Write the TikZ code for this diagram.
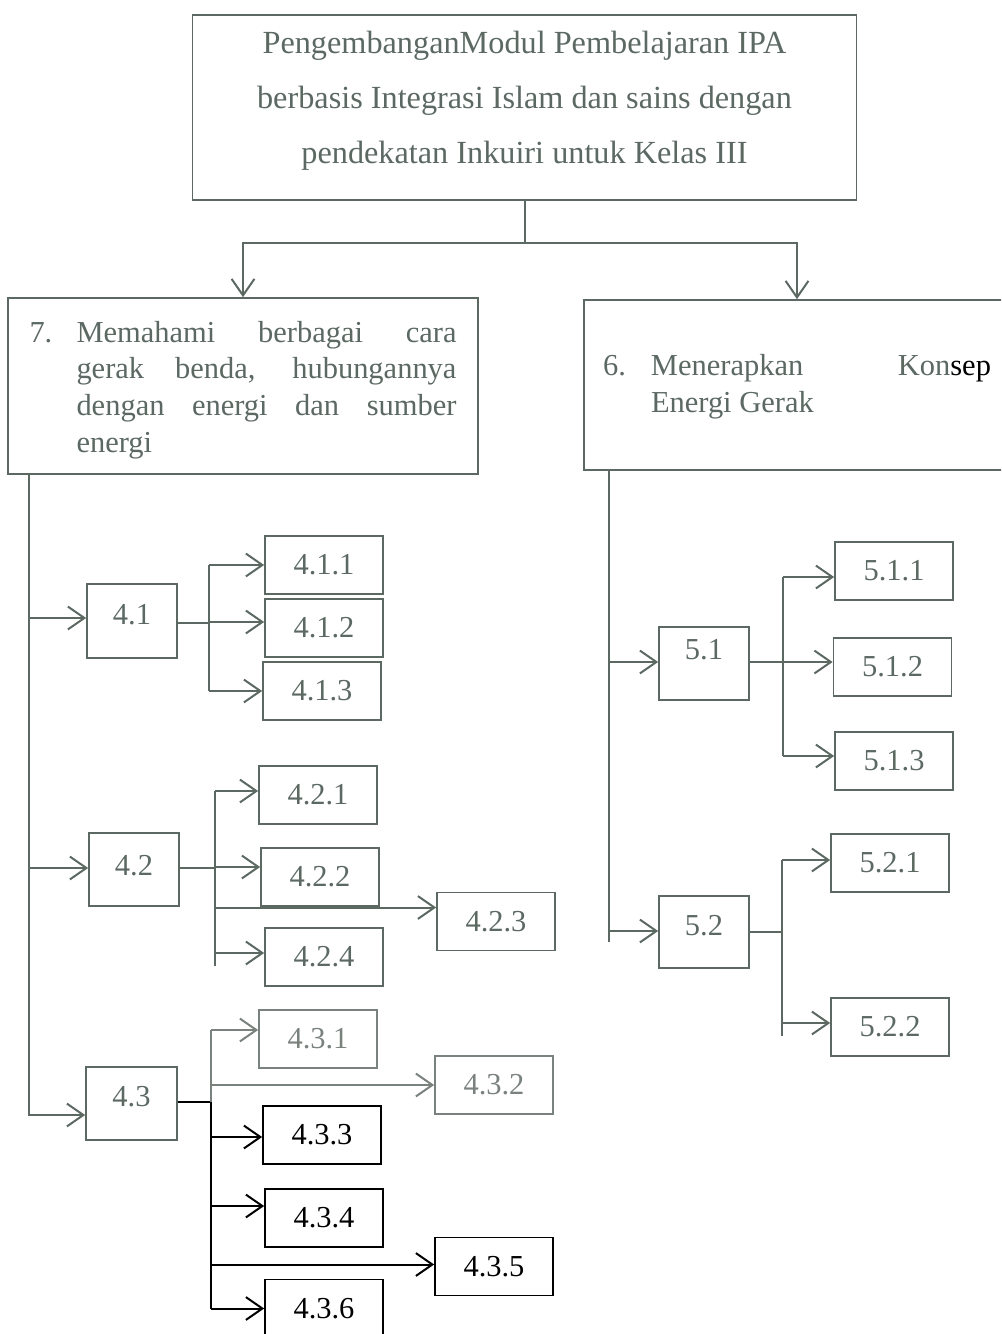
\documentclass[tikz,border=0pt]{standalone}
\usepackage{fontspec}
\setmainfont{Liberation Serif}
\usetikzlibrary{arrows.meta}
\newlength{\du}
\setlength{\du}{0.3937pt}
\newcommand{\naik}[2][6\du]{\raisebox{#1}[\height][\depth]{#2}}
\definecolor{dialinecolor}{rgb}{0.36,0.41,0.39}
\definecolor{dialinefaint}{rgb}{0.48,0.51,0.49}
\tikzset{
  kotak/.style={draw=dialinecolor, line width=1.7\du, text=dialinecolor, inner sep=0pt,
    font=\fontsize{12}{14.4}\selectfont},
  sub/.style={kotak, minimum width=90\du, minimum height=73\du},
  leaf/.style={kotak, minimum width=118\du, minimum height=58\du},
  garis/.style={draw=dialinecolor, line width=2\du},
  panah/.style={garis, -{Straight Barb[length=6.5pt,width=9pt]}},
  hitam/.style={draw=black, text=black},
  pudar/.style={draw=dialinefaint, text=dialinefaint},
}
\begin{document}
\begin{tikzpicture}
\pgftransformxscale{1.000000}
\pgftransformyscale{-1.000000}
\useasboundingbox (0\du,0\du) rectangle (1001\du,1334\du);
\clip (0\du,0\du) rectangle (1001\du,1334\du);
% judul
\node[kotak, minimum width=664\du, minimum height=185\du] (judul) at (524.5\du,107.5\du)
  {\naik[7\du]{\parbox{620\du}{\centering\fontsize{12.7}{21.65}\selectfont
   PengembanganModul Pembelajaran IPA\\berbasis Integrasi Islam dan sains dengan\\pendekatan Inkuiri untuk Kelas III}}};
% kompetensi dasar
\node[kotak, minimum width=470\du, minimum height=176\du] (kd7) at (243\du,386\du)
  {\naik[-4\du]{\makebox[47\du][l]{7.}\parbox[t]{380\du}{Memahami berbagai cara\linebreak gerak benda, hubungannya\linebreak dengan energi dan sumber\linebreak energi}}};
\node[kotak, minimum width=426\du, minimum height=170\du] (kd6) at (797\du,385\du)
  {\naik[-2\du]{\makebox[48\du][l]{6.}\parbox[t]{340\du}{Menerapkan \hfill Kon{\color{black}sep}\linebreak Energi Gerak}}};
% indikator
\node[sub, minimum height=74\du] (n41) at (132\du,621\du) {\naik{4.1}};
\node[sub] (n42) at (134\du,869.5\du) {\naik[4\du]{4.2}};
\node[sub, minimum width=91\du] (n43) at (131.5\du,1103.5\du) {\naik[7\du]{4.3}};
\node[sub] (n51) at (704\du,663.5\du) {\naik[14\du]{5.1}};
\node[sub, minimum height=72\du] (n52) at (704\du,932\du) {\naik{5.2}};
% tujuan
\node[leaf] (n411) at (324\du,565\du) {4.1.1};
\node[leaf] (n412) at (324\du,628\du) {4.1.2};
\node[leaf] (n413) at (322\du,691\du) {4.1.3};
\node[leaf] (n421) at (318\du,795\du) {4.2.1};
\node[leaf] (n422) at (320\du,877\du) {4.2.2};
\node[leaf] (n423) at (496\du,921.5\du) {4.2.3};
\node[leaf] (n424) at (324\du,957\du) {4.2.4};
\node[leaf, pudar] (n431) at (318\du,1039\du) {4.3.1};
\node[leaf, pudar] (n432) at (494\du,1085\du) {4.3.2};
\node[leaf, hitam] (n433) at (322\du,1135\du) {4.3.3};
\node[leaf, hitam] (n434) at (324\du,1218\du) {4.3.4};
\node[leaf, hitam] (n435) at (494\du,1266.5\du) {4.3.5};
\node[leaf, hitam] (n436) at (324\du,1308.5\du) {4.3.6};
\node[leaf] (n511) at (894\du,571\du) {5.1.1};
\node[leaf] (n512) at (892.5\du,667\du) {5.1.2};
\node[leaf] (n513) at (894\du,761\du) {5.1.3};
\node[leaf] (n521) at (890\du,863\du) {5.2.1};
\node[leaf] (n522) at (890\du,1027\du) {5.2.2};
% titik ujung panah
\coordinate (p41) at ([yshift=-3\du]n41.west);
\coordinate (p42) at ([yshift=-1.5\du]n42.west);
\coordinate (p43) at ([yshift=11.5\du]n43.west);
\coordinate (p51) at ([yshift=-1.5\du]n51.west);
\coordinate (p52) at ([yshift=-1\du]n52.west);
\coordinate (p412) at ([yshift=-6\du]n412.west);
\coordinate (p421) at ([yshift=-4\du]n421.west);
\coordinate (p422) at ([yshift=-10\du]n422.west);
\coordinate (p423) at ([yshift=-14\du]n423.west);
\coordinate (p424) at ([yshift=-4\du]n424.west);
\coordinate (p431) at ([yshift=-9\du]n431.west);
\coordinate (p433) at ([yshift=2\du]n433.west);
\coordinate (p434) at ([yshift=-12\du]n434.west);
\coordinate (p435) at ([yshift=-2\du]n435.west);
\coordinate (p511) at ([yshift=6\du]n511.west);
\coordinate (p512) at ([yshift=-5\du]n512.west);
\coordinate (p513) at ([yshift=-5\du]n513.west);
\coordinate (p521) at ([yshift=-3\du]n521.west);
\coordinate (p522) at ([yshift=-4\du]n522.west);
% cabang judul
\coordinate (cabang) at ([yshift=42\du]judul.south);
\draw[garis] (judul.south) -- (cabang);
\draw[panah] (cabang) -| (kd7.north);
\draw[panah] (cabang) -| (kd6.north);
% batang kiri
\coordinate (batangL) at (29\du,474\du);
\draw[panah] (batangL) |- (p43);
\draw[panah] (batangL |- p41) -- (p41);
\draw[panah] (batangL |- p42) -- (p42);
% 4.1
\coordinate (b41) at (209\du,623\du);
\draw[garis] (b41 -| n41.east) -- (b41);
\draw[garis] (b41 |- n411.west) -- (b41 |- n413.west);
\draw[panah] (b41 |- n411.west) -- (n411.west);
\draw[panah] (b41 |- p412) -- (p412);
\draw[panah] (b41 |- n413.west) -- (n413.west);
% 4.2
\coordinate (b42) at (215\du,868\du);
\draw[garis] (b42 -| n42.east) -- (b42);
\draw[garis] (b42 |- p421) -- ([yshift=13\du]b42 |- p424);
\draw[panah] (b42 |- p421) -- (p421);
\draw[panah] (b42 |- p422) -- (p422);
\draw[panah] (b42 |- p423) -- (p423);
\draw[panah] (b42 |- p424) -- (p424);
% 4.3
\coordinate (b43) at (211\du,1102\du);
\draw[garis, hitam] (b43 -| n43.east) -- (b43);
\draw[garis, pudar] (b43 |- p431) -- (b43);
\draw[garis, hitam] (b43) -- (b43 |- n436.west);
\draw[panah, pudar] (b43 |- p431) -- (p431);
\draw[panah, pudar] (b43 |- n432.west) -- (n432.west);
\draw[panah, hitam] (b43 |- p433) -- (p433);
\draw[panah, hitam] (b43 |- p434) -- (p434);
\draw[panah, hitam] (b43 |- p435) -- (p435);
\draw[panah, hitam] (b43 |- n436.west) -- (n436.west);
% batang kanan
\coordinate (batangR) at (609\du,470\du);
\draw[garis] (batangR) -- ([yshift=11\du]batangR |- p52);
\draw[panah] (batangR |- p51) -- (p51);
\draw[panah] (batangR |- p52) -- (p52);
% 5.1
\coordinate (b51) at (783\du,662\du);
\draw[garis] (b51 -| n51.east) -- (b51);
\draw[garis] (b51 |- p511) -- (b51 |- p513);
\draw[panah] (b51 |- p511) -- (p511);
\draw[panah] (b51 |- p512) -- (p512);
\draw[panah] (b51 |- p513) -- (p513);
% 5.2
\coordinate (b52) at (782\du,932\du);
\draw[garis] (b52 -| n52.east) -- (b52);
\draw[garis] (b52 |- p521) -- ([yshift=13\du]b52 |- p522);
\draw[panah] (b52 |- p521) -- (p521);
\draw[panah] (b52 |- p522) -- (p522);
\end{tikzpicture}
\end{document}
